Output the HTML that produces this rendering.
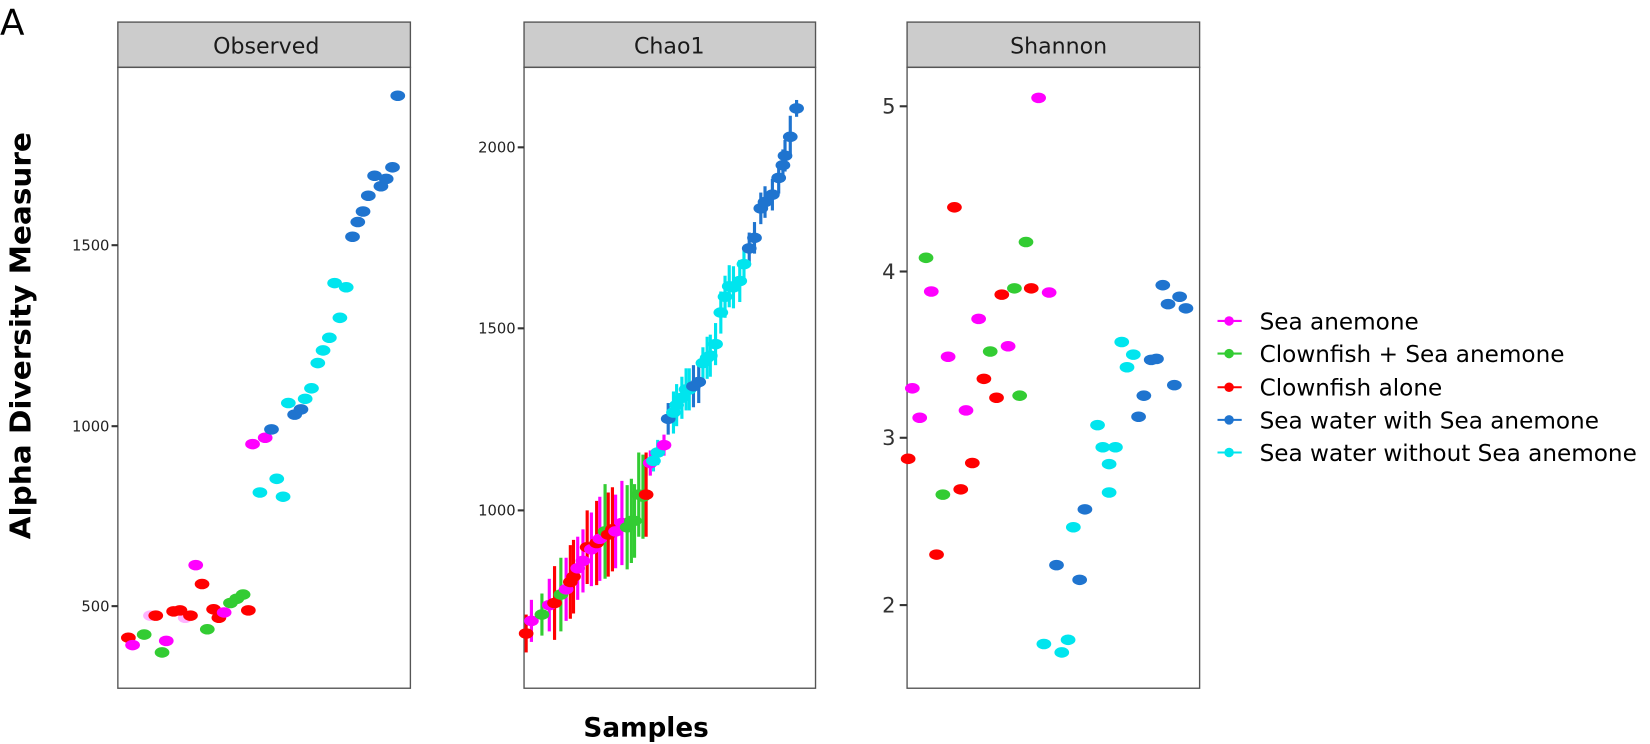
<!DOCTYPE html>
<html><head><meta charset="utf-8"><style>html,body{margin:0;padding:0;background:#fff}svg{display:block}</style></head>
<body>
<svg id="s" width="1650" height="744" viewBox="0 0 1568 707" preserveAspectRatio="none" xmlns="http://www.w3.org/2000/svg" font-family="'DejaVu Sans','Liberation Sans',sans-serif">
<rect width="1568" height="707" fill="#fff"/>
<text x="0" y="33" font-size="34" font-family="'DejaVu Sans',sans-serif">A</text>
<g fill="none" stroke="#555" stroke-width="1.3">
<rect x="112" y="21" width="278" height="43" fill="#cccccc"/>
<rect x="112" y="64" width="278" height="590"/>
<rect x="498" y="21" width="277" height="43" fill="#cccccc"/>
<rect x="498" y="64" width="277" height="590"/>
<rect x="862" y="21" width="278" height="43" fill="#cccccc"/>
<rect x="862" y="64" width="278" height="590"/>
</g>
<g font-size="21" text-anchor="middle" fill="#1a1a1a">
<text x="253" y="51">Observed</text>
<text x="636" y="51">Chao1</text>
<text x="1006" y="51">Shannon</text>
</g>
<g stroke="#333" stroke-width="2">
<line x1="106" y1="576" x2="112" y2="576"/><line x1="106" y1="405" x2="112" y2="405"/><line x1="106" y1="233" x2="112" y2="233"/>
<line x1="492" y1="485" x2="498" y2="485"/><line x1="492" y1="312" x2="498" y2="312"/><line x1="492" y1="140" x2="498" y2="140"/>
<line x1="855" y1="101" x2="862" y2="101"/><line x1="855" y1="258" x2="862" y2="258"/><line x1="855" y1="416" x2="862" y2="416"/><line x1="855" y1="575" x2="862" y2="575"/>
</g>
<g font-size="14" text-anchor="end" fill="#222">
<text x="104" y="581">500</text><text x="104" y="410">1000</text><text x="104" y="238">1500</text>
<text x="490" y="490">1000</text><text x="490" y="317">1500</text><text x="490" y="145">2000</text>
</g>
<g font-size="20" text-anchor="end" fill="#333">
<text x="851" y="108">5</text><text x="851" y="265">4</text><text x="851" y="423">3</text><text x="851" y="582">2</text>
</g>
<text transform="translate(29,319) rotate(-90)" font-size="27" font-weight="bold" text-anchor="middle" textLength="387" lengthAdjust="spacingAndGlyphs">Alpha Diversity Measure</text>
<text x="614" y="700" font-size="25" font-weight="bold" text-anchor="middle">Samples</text>
<g font-size="22" fill="#000">
<text x="1197" y="313">Sea anemone</text>
<text x="1197" y="344">Clownfish + Sea anemone</text>
<text x="1197" y="376">Clownfish alone</text>
<text x="1197" y="407">Sea water with Sea anemone</text>
<text x="1197" y="438">Sea water without Sea anemone</text>
</g>
<g id="pts"></g>
</svg>
<script>
var C={m:"#ff00ff",g:"#33cc33",r:"#ff0000",b:"#1f74cf",c:"#00e5ee",p:"#ffb3ff"};
var g=document.getElementById("pts"),h="";
function e(x,y,c){h+='<ellipse cx="'+x+'" cy="'+y+'" rx="7" ry="5" fill="'+C[c]+'"/>';}
[["m",305],["g",336],["r",368],["b",399],["c",430]].forEach(function(a){h+='<line x1="1157" y1="'+a[1]+'" x2="1180" y2="'+a[1]+'" stroke="'+C[a[0]]+'" stroke-width="2"/><circle cx="1168" cy="'+a[1]+'" r="4.5" fill="'+C[a[0]]+'"/>';});
var obs=[[143,585,"p"],[176,587,"p"],
[122,606,"r"],[148,585,"r"],[165,581,"r"],[171,580,"r"],[181,585,"r"],[192,555,"r"],[203,579,"r"],[208,587,"r"],[236,580,"r"],
[137,603,"g"],[154,620,"g"],[197,598,"g"],[219,573,"g"],[225,569,"g"],[231,565,"g"],
[126,613,"m"],[158,609,"m"],[186,537,"m"],[240,422,"m"],[252,416,"m"],[213,582,"m"],
[258,408,"b"],[280,394,"b"],[286,389,"b"],[335,225,"b"],[340,211,"b"],[345,201,"b"],[350,186,"b"],[356,167,"b"],[362,177,"b"],[367,170,"b"],[373,159,"b"],[378,91,"b"],
[247,468,"c"],[263,455,"c"],[269,472,"c"],[274,383,"c"],[290,379,"c"],[296,369,"c"],[302,345,"c"],[307,333,"c"],[313,321,"c"],[323,302,"c"],[318,269,"c"],[329,273,"c"]];
obs.forEach(function(p){e(p[0],p[1],p[2]);});
var ch=[[500,602,"r",18],[505,590,"m",20],[515,584,"g",20],[522,575,"m",25],[527,573,"r",35],[533,565,"g",35],[538,560,"m",30],[542,553,"r",35],[545,548,"r",35],[549,540,"m",30],[554,533,"m",30],[558,520,"r",35],[562,522,"m",35],[567,516,"r",40],[570,512,"m",40],[575,505,"g",45],[578,508,"r",40],[582,503,"r",40],[585,505,"m",35],[591,497,"m",40],[596,501,"g",40],[600,495,"g",40],[603,495,"g",35],[607,470,"g",40],[611,472,"g",40],[614,470,"r",40],[618,440,"m",12],[621,438,"c",10],[625,430,"c",12],[631,423,"m",10],[635,398,"b",15],[640,392,"c",20],[643,385,"c",20],[648,378,"c",20],[652,370,"c",20],[655,370,"c",20],[659,367,"b",20],[664,363,"b",20],[668,345,"c",15],[672,340,"c",20],[675,338,"c",20],[680,327,"c",20],[685,297,"c",20],[689,282,"c",20],[693,272,"c",20],[697,273,"c",20],[703,267,"c",20],[707,251,"c",15],[712,236,"b",15],[717,226,"b",15],[723,198,"b",15],[727,192,"b",15],[734,185,"b",15],[740,169,"b",15],[744,157,"b",15],[746,148,"b",15],[751,130,"b",20],[757,103,"b",8]];
ch.forEach(function(p){h+='<line x1="'+p[0]+'" y1="'+(p[1]-p[3])+'" x2="'+p[0]+'" y2="'+(p[1]+p[3])+'" stroke="'+C[p[2]]+'" stroke-width="3"/>';});
ch.forEach(function(p){e(p[0],p[1],p[2]);});
var sh=[[867,369,"m"],[874,397,"m"],[885,277,"m"],[901,339,"m"],[918,390,"m"],[930,303,"m"],[958,329,"m"],[987,93,"m"],[997,278,"m"],
[880,245,"g"],[896,470,"g"],[941,334,"g"],[964,274,"g"],[969,376,"g"],[975,230,"g"],
[863,436,"r"],[890,527,"r"],[907,197,"r"],[913,465,"r"],[924,440,"r"],[935,360,"r"],[947,378,"r"],[952,280,"r"],[980,274,"r"],
[1004,537,"b"],[1026,551,"b"],[1031,484,"b"],[1082,396,"b"],[1087,376,"b"],[1094,342,"b"],[1099,341,"b"],[1105,271,"b"],[1110,289,"b"],[1116,366,"b"],[1121,282,"b"],[1127,293,"b"],
[992,612,"c"],[1009,620,"c"],[1015,608,"c"],[1020,501,"c"],[1043,404,"c"],[1048,425,"c"],[1054,441,"c"],[1060,425,"c"],[1054,468,"c"],[1066,325,"c"],[1071,349,"c"],[1077,337,"c"]];
sh.forEach(function(p){e(p[0],p[1],p[2]);});
g.innerHTML=h;
</script>
</body></html>
